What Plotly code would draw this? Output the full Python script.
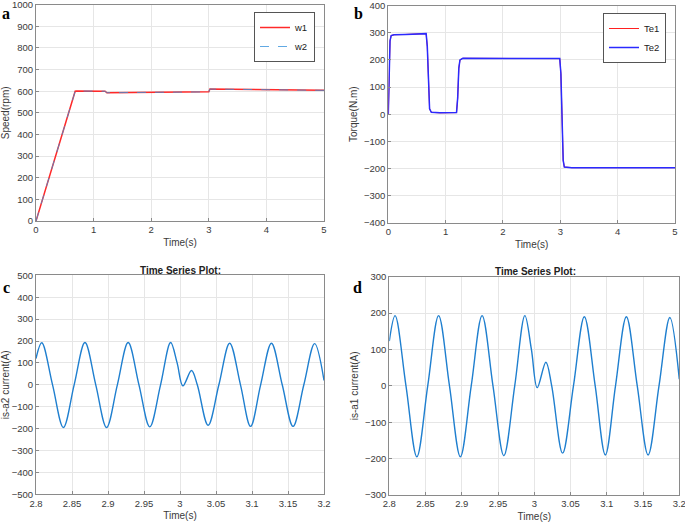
import plotly.graph_objects as go

# ---------------- data ----------------
# (a) speed
t_speed = [0, 0.68, 0.70, 1.18, 1.20, 1.23, 2.0, 2.98, 3.0, 3.02, 3.5, 4.0, 5.0]
w1 = [0, 600, 601, 601, 600, 593, 594, 596, 597, 610, 609, 607, 604]
w2 = [0, 600, 601, 601, 600, 593, 594, 596, 597, 610, 609, 607, 604]

# (b) torque
t_torque = [0, 0.01, 0.03, 0.05, 0.1, 0.3, 0.5, 0.66, 0.68, 0.70, 0.72, 0.75, 0.9, 1.19,
            1.21, 1.23, 1.25, 1.3, 2.0, 2.99, 3.01, 3.03, 3.05, 3.07, 3.2, 4.0, 5.0]
te1 = [0, 150, 270, 290, 293, 294, 295, 297, 250, 100, 20, 7, 5, 6,
       60, 170, 200, 206, 205, 205, 150, -50, -170, -195, -197, -197, -197]
te2 = [0, 150, 270, 290, 293, 294, 295, 297, 250, 100, 20, 7, 5, 6,
       60, 170, 200, 206, 205, 205, 150, -50, -170, -195, -197, -197, -197]

# (c) is-a2 current
t_c = [2.800, 2.808, 2.823, 2.838, 2.853, 2.868, 2.883, 2.898, 2.913, 2.928, 2.943, 2.958,
       2.973, 2.987, 2.996, 3.004, 3.016, 3.024, 3.039, 3.054, 3.069, 3.084, 3.098, 3.112,
       3.127, 3.142, 3.157, 3.172, 3.187, 3.200]
i_a2 = [120, 192, 0, -195, 0, 193, 0, -195, 0, 193, 0, -192,
        0, 193, 100, -5, 65, 0, -185, 0, 190, 0, -190, 0,
        190, 0, -190, 0, 188, 20]

# (d) is-a1 current
t_d = [2.800, 2.808, 2.823, 2.838, 2.853, 2.868, 2.883, 2.898, 2.913, 2.928, 2.943, 2.958,
       2.973, 2.987, 2.996, 3.004, 3.016, 3.024, 3.039, 3.054, 3.069, 3.084, 3.098, 3.112,
       3.127, 3.142, 3.157, 3.172, 3.187, 3.200]
i_a1 = [123, 193, 0, -195, 0, 193, 0, -195, 0, 193, 0, -192,
        0, 193, 100, -5, 65, 0, -185, 0, 190, 0, -190, 0,
        190, 0, -190, 0, 188, 18]

x_ticks_zoom = [2.8, 2.85, 2.9, 2.95, 3.0, 3.05, 3.1, 3.15, 3.2]

# ---------------- figure ----------------
W, H = 685, 525
def xd(a, b):
    return [a / W, b / W]
def yd(top, bottom):
    return [1 - bottom / H, 1 - top / H]

fig = go.Figure()

fig.add_trace(go.Scatter(x=t_speed, y=w1, name="w1", mode="lines",
                         line=dict(color="#ff2a2a", width=1.5), xaxis="x", yaxis="y", legend="legend"))
fig.add_trace(go.Scatter(x=t_speed, y=w2, name="w2", mode="lines",
                         line=dict(color="#3a93dc", width=1.0, dash="dash"), xaxis="x", yaxis="y",
                         legend="legend", opacity=0.8))

fig.add_trace(go.Scatter(x=t_torque, y=te1, name="Te1", mode="lines",
                         line=dict(color="#ff2020", width=1.0), xaxis="x2", yaxis="y2", legend="legend2"))
fig.add_trace(go.Scatter(x=t_torque, y=te2, name="Te2", mode="lines",
                         line=dict(color="#2a2aff", width=1.5), xaxis="x2", yaxis="y2", legend="legend2"))

fig.add_trace(go.Scatter(x=t_c, y=i_a2, mode="lines", showlegend=False,
                         line=dict(color="#1f7fcf", width=1.4, shape="spline", smoothing=1.0),
                         xaxis="x3", yaxis="y3"))
fig.add_trace(go.Scatter(x=t_d, y=i_a1, mode="lines", showlegend=False,
                         line=dict(color="#1f7fcf", width=1.4, shape="spline", smoothing=1.0),
                         xaxis="x4", yaxis="y4"))

SANS = "Liberation Sans, Arial, sans-serif"
tickfont = dict(family=SANS, size=9.5, color="#3a3a3a")
titlefont = dict(family=SANS, size=10, color="#3a3a3a")

def ax(domain, rng, dtick, title, anchor, standoff=4, tickvals=None):
    d = dict(domain=domain, range=rng, dtick=dtick, anchor=anchor, automargin=False,
             ticklabeloverflow="allow",
             showline=True, linecolor="#8a8a8a", linewidth=1, mirror=True,
             ticks="inside", ticklen=3, tickcolor="#8a8a8a",
             showgrid=True, gridcolor="#e6e6e6", gridwidth=1, zeroline=False,
             tickfont=tickfont, title=dict(text=title, font=titlefont, standoff=standoff))
    if tickvals is not None:
        d["tickvals"] = tickvals
        d["ticktext"] = [("%g" % v) for v in tickvals]
        d.pop("dtick")
    return d

legend_common = dict(xanchor="right", yanchor="top", bgcolor="white",
                     bordercolor="#555555", borderwidth=1,
                     font=dict(family=SANS, size=9.5, color="#222"),
                     itemwidth=30, tracegroupgap=0)

fig.update_layout(
    width=W, height=H, margin=dict(l=0, r=0, t=0, b=0),
    paper_bgcolor="white", plot_bgcolor="white",
    xaxis=ax(xd(36, 324), [0, 5], 1, "Time(s)", "y"),
    yaxis=ax(yd(4.7, 221), [0, 1000], 100, "Speed(rpm)", "x"),
    xaxis2=ax(xd(388.3, 675), [0, 5], 1, "Time(s)", "y2"),
    yaxis2=ax(yd(5.7, 222.7), [-400, 400], 100, "Torque(N.m)", "x2"),
    xaxis3=ax(xd(36, 324), [2.8, 3.2], None, "Time(s)", "y3", tickvals=x_ticks_zoom),
    yaxis3=ax(yd(275.3, 494.3), [-500, 500], 100, "is-a2 current(A)", "x3"),
    xaxis4=ax(xd(389.3, 679.3), [2.8, 3.2], None, "Time(s)", "y4", tickvals=x_ticks_zoom),
    yaxis4=ax(yd(276.7, 495), [-300, 300], 100, "is-a1 current(A)", "x4"),
    legend=dict(x=315 / W, y=1 - 12 / H, **legend_common),
    legend2=dict(x=666 / W, y=1 - 13 / H, **legend_common),
    showlegend=True,
)

letter_font = dict(family="Liberation Serif, Times New Roman, serif", size=16, color="black")
for txt, x, y in [("<b>a</b>", 6, 13), ("<b>b</b>", 358, 13), ("<b>c</b>", 6, 287), ("<b>d</b>", 357.5, 287)]:
    fig.add_annotation(text=txt, x=x / W, y=1 - y / H, xref="paper", yref="paper",
                       xanchor="center", yanchor="middle", showarrow=False, font=letter_font)

ttl_font = dict(family=SANS, size=10, color="#222")
for x, y in [(180, 270), (535, 271)]:
    fig.add_annotation(text="<b>Time Series Plot:</b>", x=x / W, y=1 - y / H, xref="paper", yref="paper",
                       xanchor="center", yanchor="middle", showarrow=False, font=ttl_font)

fig.write_html("out.html", config={"displayModeBar": False},
               post_script="document.body.style.margin='0';")
